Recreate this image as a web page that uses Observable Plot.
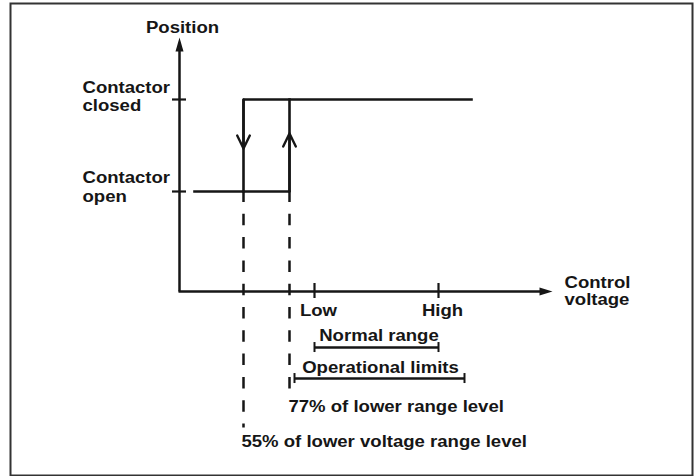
<!DOCTYPE html>
<html><head><meta charset="utf-8">
<script src="https://cdn.jsdelivr.net/npm/d3@7"></script>
<script src="https://cdn.jsdelivr.net/npm/@observablehq/plot@0.6"></script>
<style>body{margin:0;background:#fff}</style>
</head><body><div id="chart"></div>
<script>
// Schematic control-voltage units (0 = position axis)
const dropout = 64;      // 55% of lower voltage range level
const pickup = 110;      // 77% of lower range level
const low = 135;         // Low
const high = 259;        // High
const opMin = 115;       // operational limits (start)
const opMax = 285;       // operational limits (end)
const openStart = 15;
const closedEnd = 292;
const axisEnd = 373;

// Position levels
const OPEN = 0;
const CLOSED = 1;
const axisLevel = -1.087;
const axisTop = 1.674;
const downArrowTip = 0.467;
const upArrowTip = 0.63;
const dashTop = 0.011;
const dashEnds = [-2.565, -2.141];
const normalLevel = -1.696;
const operationalLevel = -2.033;

// Tick labels
const xTickLabels = ["Low", "High"];
const xTickValues = [low, high];
const yTickLabels = ["Contactor\nclosed", "Contactor\nopen"];

// Hysteresis loop
const loopRise = [[openStart, OPEN], [pickup, OPEN], [pickup, CLOSED]];
const loopFall = [[closedEnd, CLOSED], [dropout, CLOSED], [dropout, OPEN]];

const ink = "#161616";
const font = {fontFamily: "Liberation Sans, Arial, sans-serif", fontWeight: "bold", fontSize: 15.6, fill: ink};

const chart = Plot.plot({
  width: 697,
  height: 476,
  marginLeft: 10,
  marginTop: 3,
  marginRight: 5,
  marginBottom: 1,
  x: {type: "linear", domain: [0, axisEnd], range: [179, 552], axis: null},
  y: {type: "linear", domain: [OPEN, CLOSED], range: [191, 99], axis: null},
  style: {background: "#fff", overflow: "visible"},
  marks: [
    Plot.frame({stroke: "#333", strokeWidth: 2}),
    // axes
    Plot.link([0], {x1: 0, x2: 0, y1: axisLevel, y2: axisTop - 0.12, stroke: ink, strokeWidth: 2.5}),
    Plot.vector([0], {x: 0, y: axisTop, length: 14, r: 4, shape: "spike", anchor: "end", fill: ink, stroke: "none"}),
    Plot.link([0], {x1: -1, x2: axisEnd - 10, y1: axisLevel, y2: axisLevel, stroke: ink, strokeWidth: 2.5}),
    Plot.vector([0], {x: axisEnd, y: axisLevel, length: 13, r: 4, rotate: 90, shape: "spike", anchor: "end", fill: ink, stroke: "none"}),
    Plot.ruleY([CLOSED, OPEN], {x1: 0, x2: 0, insetLeft: -7, insetRight: -7, stroke: ink, strokeWidth: 2.2}),
    Plot.ruleX(xTickValues, {y1: axisLevel, y2: axisLevel, insetTop: -8, insetBottom: -7, stroke: ink, strokeWidth: 2.2}),
    // dashed thresholds
    Plot.link([dropout, pickup], {x1: d => d, x2: d => d, y1: dashTop, y2: (d, i) => dashEnds[i], stroke: ink, strokeWidth: 2.5, strokeDasharray: "11.5,11.8"}),
    // hysteresis loop
    Plot.line(loopRise, {x: d => d[0], y: d => d[1], stroke: ink, strokeWidth: 2.6, strokeLinecap: "square", strokeLinejoin: "miter"}),
    Plot.line(loopFall, {x: d => d[0], y: d => d[1], stroke: ink, strokeWidth: 2.6, strokeLinecap: "square", strokeLinejoin: "miter"}),
    Plot.arrow([0], {x1: dropout, x2: dropout, y1: CLOSED, y2: downArrowTip, stroke: ink, strokeWidth: 2.4, headLength: 9, headAngle: 52}),
    Plot.arrow([0], {x1: pickup, x2: pickup, y1: OPEN, y2: upArrowTip, stroke: ink, strokeWidth: 2.4, headLength: 9, headAngle: 52}),
    // range bars
    Plot.link([0], {x1: low, x2: high, y1: normalLevel, y2: normalLevel, stroke: ink, strokeWidth: 2.4}),
    Plot.ruleX([low, high], {y1: normalLevel, y2: normalLevel, insetTop: -5, insetBottom: -5, stroke: ink, strokeWidth: 2}),
    Plot.link([0], {x1: opMin, x2: opMax, y1: operationalLevel, y2: operationalLevel, stroke: ink, strokeWidth: 2.4}),
    Plot.ruleX([opMin, opMax], {y1: operationalLevel, y2: operationalLevel, insetTop: -5, insetBottom: -5, stroke: ink, strokeWidth: 2}),
    // labels
    Plot.text(["Position"], {x: 3, y: 1.728, text: d => d, textAnchor: "middle", lineAnchor: "bottom", ...font}),
    Plot.text(yTickLabels, {x: -97, y: [0.87, -0.109], text: d => d, textAnchor: "start", lineAnchor: "bottom", lineHeight: 1.16, ...font}),
    Plot.text(xTickLabels, {x: (d, i) => xTickValues[i] + 4, y: -1.348, text: d => d, textAnchor: "middle", lineAnchor: "bottom", ...font}),
    Plot.text(["Control\nvoltage"], {x: 385, y: -1.239, text: d => d, textAnchor: "start", lineAnchor: "bottom", lineHeight: 1.1, ...font}),
    Plot.text(["Normal range"], {x: 199.5, y: -1.630, text: d => d, textAnchor: "middle", lineAnchor: "bottom", ...font}),
    Plot.text(["Operational limits"], {x: 201, y: -1.978, text: d => d, textAnchor: "middle", lineAnchor: "bottom", ...font}),
    Plot.text(["77% of lower range level"], {x: 109, y: -2.402, text: d => d, textAnchor: "start", lineAnchor: "bottom", ...font}),
    Plot.text(["55% of lower voltage range level"], {x: 62, y: -2.772, text: d => d, textAnchor: "start", lineAnchor: "bottom", ...font})
  ]
});
// widen the lettering horizontally, as in the reference artwork
chart.querySelectorAll("text").forEach(t => {
  const tr = t.getAttribute("transform") || "";
  t.setAttribute("transform", tr + " scale(1.19,1)");
});
document.getElementById("chart").append(chart);
</script>
</body></html>
